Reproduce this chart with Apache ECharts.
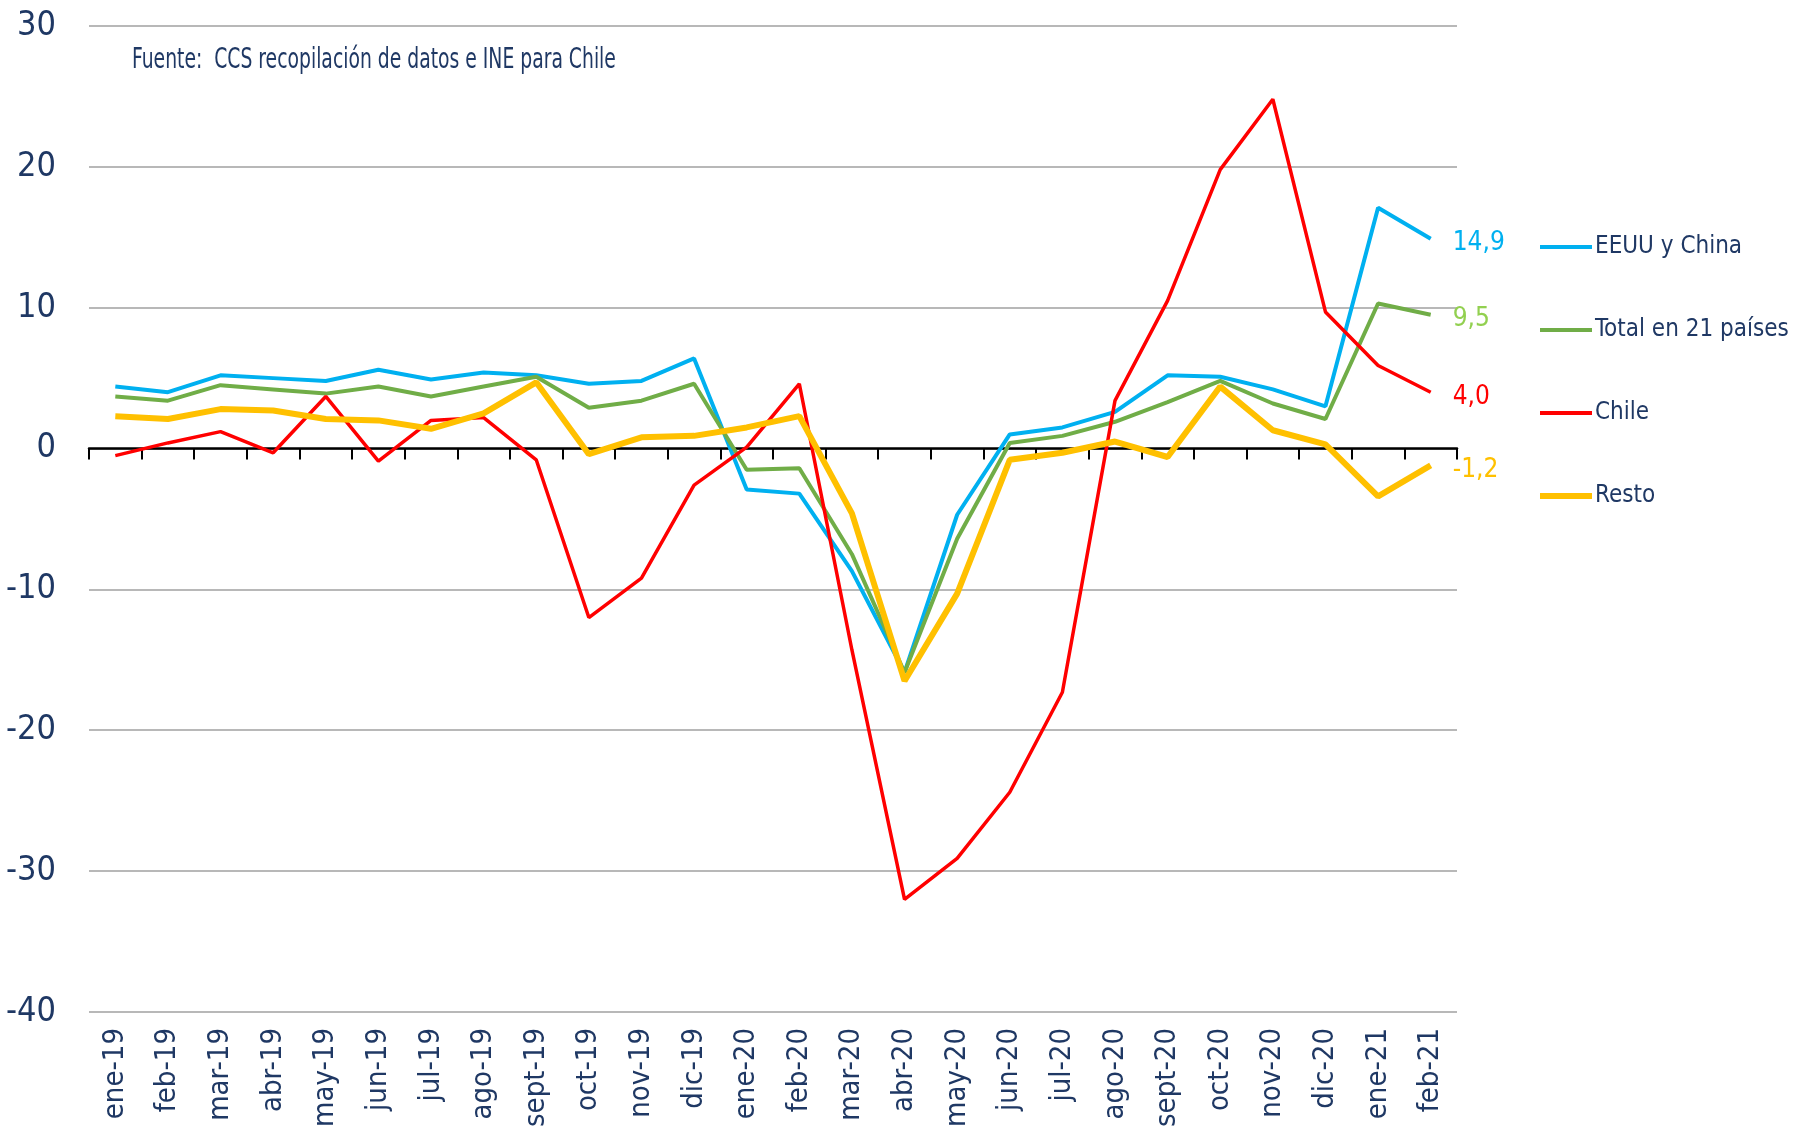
<!DOCTYPE html>
<html>
<head>
<meta charset="utf-8">
<script src="https://cdn.jsdelivr.net/npm/echarts@6/dist/echarts.min.js"></script>
<style>
html,body{margin:0;padding:0;background:#fff;}
#chart{width:1798px;height:1130px;}
</style>
</head>
<body>
<div id="chart"></div>
<script>
const categories = ['ene-19','feb-19','mar-19','abr-19','may-19','jun-19','jul-19','ago-19','sept-19','oct-19','nov-19','dic-19',
  'ene-20','feb-20','mar-20','abr-20','may-20','jun-20','jul-20','ago-20','sept-20','oct-20','nov-20','dic-20','ene-21','feb-21'];

const eeuuChina = [4.4,4.0,5.2,5.0,4.8,5.6,4.9,5.4,5.2,4.6,4.8,6.4,
  -2.9,-3.2,-8.7,-15.9,-4.7,1.0,1.5,2.6,5.2,5.1,4.2,3.0,17.1,14.9];
const total21 = [3.7,3.4,4.5,4.2,3.9,4.4,3.7,4.4,5.1,2.9,3.4,4.6,
  -1.5,-1.4,-7.5,-15.9,-6.4,0.4,0.9,1.9,3.3,4.8,3.2,2.1,10.3,9.5];
const chile = [-0.5,0.4,1.2,-0.3,3.7,-0.9,2.0,2.2,-0.8,-12.0,-9.2,-2.6,
  0.1,4.6,-14.3,-32.0,-29.1,-24.4,-17.3,3.4,10.5,19.8,24.8,9.7,5.9,4.0];
const resto = [2.3,2.1,2.8,2.7,2.1,2.0,1.4,2.5,4.7,-0.4,0.8,0.9,
  1.5,2.3,-4.6,-16.5,-10.3,-0.8,-0.3,0.5,-0.6,4.4,1.3,0.3,-3.4,-1.2];

const seriesNames = ['EEUU y China','Total en 21 países','Chile','Resto'];
const yTicks = {min:-40, max:30, interval:10};
const sourceText = 'Fuente:  CCS recopilación de datos e INE para Chile';

const NAVY = '#1F3864';
const FONT = "'Liberation Sans Narrow','DejaVu Sans Condensed','Roboto Condensed',sans-serif";

function fmt(v){ return v.toFixed(1).replace('.', ','); }

function mkSeries(name, data, color, width, labelColor){
  return {
    name: name, type: 'line', data: data, xAxisIndex: 0, yAxisIndex: 0,
    symbol: 'none', smooth: false,
    lineStyle: {color: color, width: width},
    itemStyle: {color: color},
    endLabel: {
      show: true, distance: 22, offset: [0, 5],
      formatter: p => fmt(p.value),
      color: labelColor, fontSize: 26, fontFamily: FONT
    },
    emphasis: {disabled: true}
  };
}

const thinIcon = 'path://M0,0H52V4H0Z';
const thickIcon = 'path://M0,0H52V6H0Z';

const chart = echarts.init(document.getElementById('chart'), null, {renderer:'canvas'});
chart.setOption({
  animation: false,
  backgroundColor: '#fff',
  grid: {left: 89, right: 341, top: 26, bottom: 110, containLabel: false},
  graphic: [{
    type: 'text', x: 132, y: 60, scaleX: 0.72, scaleY: 1,
    style: {text: sourceText, fill: NAVY, fontSize: 29, fontFamily: FONT, verticalAlign: 'middle', align: 'left'}
  }],
  legend: {
    orient: 'vertical', left: 1540, top: 230, padding: 0,
    itemWidth: 52, itemHeight: 14, itemGap: 49,
    data: [
      {name: seriesNames[0], icon: thinIcon},
      {name: seriesNames[1], icon: thinIcon},
      {name: seriesNames[2], icon: thinIcon},
      {name: seriesNames[3], icon: thickIcon}
    ],
    textStyle: {color: NAVY, fontSize: 24, fontFamily: FONT, lineHeight: 34, padding: [0,0,0,-2]}
  },
  xAxis: [{
    type: 'category', data: categories, position: 'bottom', boundaryGap: true,
    axisLine: {show: false, onZero: false},
    axisTick: {show: false},
    axisLabel: {rotate: 90, interval: 0, margin: 16, color: NAVY, fontSize: 29, fontFamily: FONT},
    splitLine: {show: false}
  },{
    type: 'category', data: categories, position: 'top', boundaryGap: true,
    axisLine: {show: true, onZero: true, lineStyle: {color: '#000', width: 2.5}},
    axisTick: {show: true, inside: true, length: 11, interval: 0, lineStyle: {color: '#000', width: 2}},
    axisLabel: {show: false},
    splitLine: {show: false}
  }],
  yAxis: {
    type: 'value', min: yTicks.min, max: yTicks.max, interval: yTicks.interval,
    axisLine: {show: false}, axisTick: {show: false},
    axisLabel: {color: NAVY, fontSize: 34, fontFamily: FONT, margin: 33},
    splitLine: {lineStyle: {color: '#a0a0a0', width: 1.5}}
  },
  series: [
    mkSeries(seriesNames[0], eeuuChina, '#00B0F0', 4, '#00B0F0'),
    mkSeries(seriesNames[1], total21, '#70AD47', 4, '#92D050'),
    mkSeries(seriesNames[2], chile, '#FF0000', 3.5, '#FF0000'),
    mkSeries(seriesNames[3], resto, '#FFC000', 6, '#FFC000')
  ]
});
</script>
</body>
</html>
